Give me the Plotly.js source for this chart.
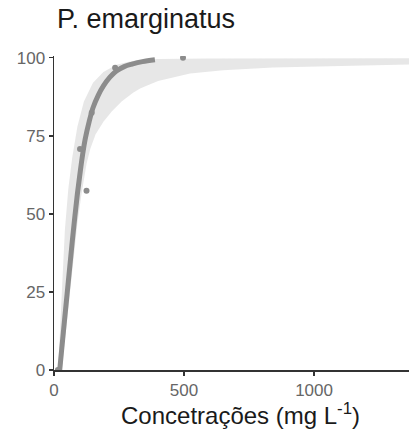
<!DOCTYPE html>
<html>
<head>
<meta charset="utf-8">
<script src="https://cdn.plot.ly/plotly-3.0.1.min.js"></script>
<style>html,body{margin:0;padding:0;background:#fff;}#chart{width:409px;height:432px;}</style>
</head>
<body>
<div id="chart"></div>
<script>
// Observed points
var obsX = [15, 100, 125, 145, 235, 496];
var obsY = [0, 70.8, 57.4, 82.4, 96.8, 100];

// Fitted curve
var fitX = [22, 30, 40, 50, 60, 70, 80, 90, 100, 110, 120, 135, 150, 170, 190, 215, 240, 270, 300, 340, 388];
var fitY = [0, 7, 15.5, 24, 32.5, 41, 49, 56.5, 63, 69, 74, 79.5, 84, 88, 91, 93.8, 95.8, 97.2, 98, 98.8, 99.4];

// Confidence band edges
var upX = [16, 24, 32, 42, 55, 70, 90, 115, 150, 190, 240, 300, 400, 600, 900, 1365];
var upY = [0, 12, 28, 45, 58, 68, 78, 86, 92, 95.5, 97.8, 99, 99.6, 99.8, 99.9, 99.9];
var loX = [30, 45, 60, 75, 90, 105, 125, 140, 160, 190, 222, 260, 304, 331, 400, 523, 650, 842, 1100, 1365];
var loY = [0, 12, 25, 36, 47, 56, 66, 71, 75.5, 79.5, 82.8, 86, 88.8, 90.2, 92.6, 95, 96, 96.9, 97.5, 97.9];

var bandX = upX.concat(loX.slice().reverse());
var bandY = upY.concat(loY.slice().reverse());

var traces = [
  {x: bandX, y: bandY, type: 'scatter', mode: 'lines', fill: 'toself',
   fillcolor: 'rgba(215,215,215,0.6)', line: {width: 0}, hoverinfo: 'skip', showlegend: false},
  {x: fitX, y: fitY, type: 'scatter', mode: 'lines',
   line: {color: '#8c8c8c', width: 5, shape: 'spline'}, showlegend: false},
  {x: obsX, y: obsY, type: 'scatter', mode: 'markers',
   marker: {color: '#8c8c8c', size: 6}, showlegend: false}
];

var layout = {
  width: 409, height: 432,
  margin: {l: 54, r: 0, t: 56, b: 62},
  paper_bgcolor: '#fff', plot_bgcolor: '#fff',
  font: {family: 'Liberation Sans, Arial, sans-serif'},
  title: {text: 'P. emarginatus', x: 57/409, xanchor: 'left', xref: 'container',
          y: 1 - 9/432, yanchor: 'top', yref: 'container',
          font: {size: 27, color: '#1a1a1a'}},
  xaxis: {range: [0, 1365], tickvals: [0, 500, 1000], ticktext: ['0', '500', '1000'],
          showgrid: false, zeroline: false, showline: true, linecolor: '#333', linewidth: 1.5,
          ticks: 'outside', ticklen: 4, tickcolor: '#333', tickwidth: 1.2,
          tickfont: {size: 17, color: '#666'}},
  yaxis: {range: [0, 100.6], tickvals: [0, 25, 50, 75, 100],
          showgrid: false, zeroline: false, showline: true, linecolor: '#333', linewidth: 1.5,
          ticks: 'outside', ticklen: 4, tickcolor: '#333', tickwidth: 1.2,
          tickfont: {size: 17, color: '#666'}},
  annotations: [{text: 'Concetrações (mg L<sup>-1</sup>)', xref: 'paper', yref: 'paper',
                 x: (240 - 54) / 355, xanchor: 'center', y: -61.5/314, yanchor: 'bottom',
                 showarrow: false, font: {size: 24, color: '#1a1a1a'}}]
};

Plotly.newPlot('chart', traces, layout, {displayModeBar: false, staticPlot: true});
</script>
</body>
</html>
